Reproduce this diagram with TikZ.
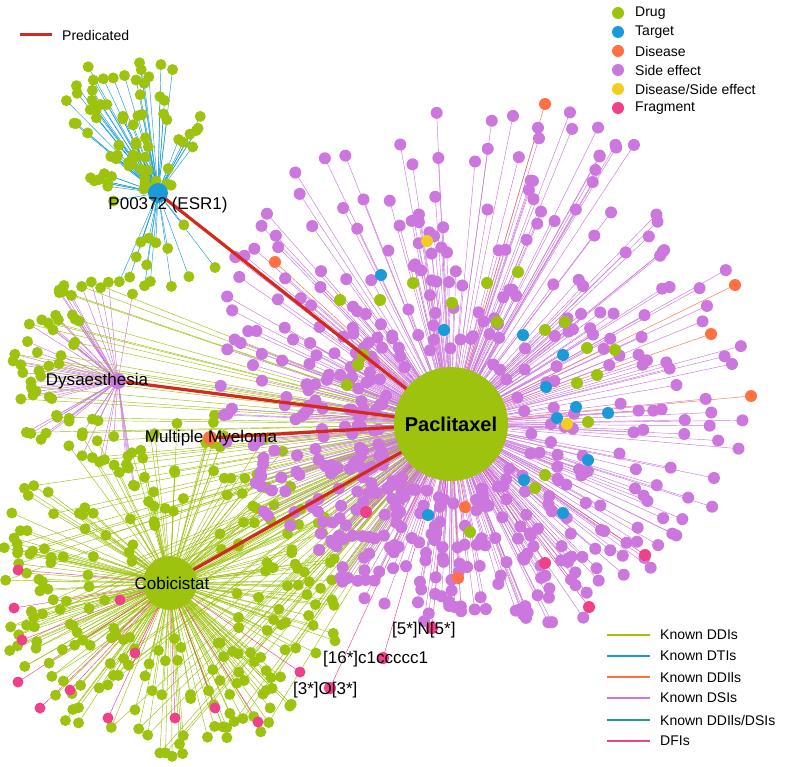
\documentclass[tikz,border=0pt]{standalone}
\usepackage{fontspec}
\setmainfont{Liberation Sans}
\usetikzlibrary{calc}
\definecolor{cdrug}{HTML}{9DC30E}
\definecolor{ctar}{HTML}{1A9BD7}
\definecolor{cdis}{HTML}{FF7043}
\definecolor{cse}{HTML}{CC77DD}
\definecolor{cds}{HTML}{F5CC20}
\definecolor{cfr}{HTML}{F0408A}
\definecolor{cteal}{HTML}{1E9E8A}
\definecolor{cred}{HTML}{D42A1E}
\tikzset{
  thin edge/.style={line width=0.45pt},
  pred/.style={cred,line width=3.2pt},
  lab/.style={font=\fontsize{17}{17}\selectfont,inner sep=0pt},
  leg/.style={font=\fontsize{14}{14}\selectfont,anchor=west,inner sep=0pt},
  legline/.style={line width=1.2pt},
}
\begin{document}
\begin{tikzpicture}[x=1pt,y=-1pt]
\useasboundingbox (0,0) rectangle (797,767);
\coordinate (P) at (451,424);
\coordinate (E) at (158,193);
\coordinate (EC) at (128,128);
\coordinate (D) at (118,381);
\coordinate (M) at (210,438);
\coordinate (C) at (170,583);
% ---- ESR1 cluster
\pgfmathsetseed{11}
\foreach \i in {1,...,75}{
  \pgfmathsetmacro\t{rnd*360}\pgfmathsetmacro\r{75*sqrt(rnd)}
  \draw[ctar,thin edge] (E) -- ($(EC)+(\t:\r)$);
}
\foreach \i in {1,...,14}{
  \pgfmathsetmacro\t{50+rnd*80}\pgfmathsetmacro\r{40+rnd*70}
  \draw[ctar,thin edge] (E) -- ($(E)+(\t:\r)$);
}
% ---- Dysaesthesia cluster
\pgfmathsetseed{21}
\foreach \i in {1,...,60}{
  \pgfmathsetmacro\t{80+rnd*200}\pgfmathsetmacro\r{30+80*sqrt(rnd)}
  \draw[cse,thin edge] (D) -- ($(D)+(\t:\r)$);
}
% ---- Cobicistat cluster lines
\pgfmathsetseed{31}
\foreach \i in {1,...,240}{
  \pgfmathsetmacro\t{rnd*360}\pgfmathsetmacro\r{35+140*sqrt(rnd)}
  \draw[cdrug,thin edge] (C) -- ($(C)+(\t:\r)$);
}
\pgfmathsetseed{31}
\foreach \i in {1,...,80}{
  \pgfmathsetmacro\t{rnd*360}\pgfmathsetmacro\r{35+140*sqrt(rnd)}
  \draw[cdrug,thin edge] (P) -- ($(C)+(\t:\r)$);
}
\pgfmathsetseed{21}
\foreach \i in {1,...,25}{
  \pgfmathsetmacro\t{80+rnd*200}\pgfmathsetmacro\r{30+80*sqrt(rnd)}
  \draw[cdrug,thin edge] (P) -- ($(D)+(\t:\r)$);
}
\foreach \p in {(18,570),(14,608),(22,640),(18,682),(40,708),(70,690),(108,718),(135,653),(175,718),(215,708),(258,722),(300,672),(120,600)}{
  \draw[cfr,thin edge] (C) -- \p;
}
% cluster nodes
\pgfmathsetseed{11}
\foreach \i in {1,...,75}{
  \pgfmathsetmacro\t{rnd*360}\pgfmathsetmacro\r{75*sqrt(rnd)}
  \fill[cdrug] ($(EC)+(\t:\r)$) circle (5.5);
}
\foreach \i in {1,...,14}{
  \pgfmathsetmacro\t{50+rnd*80}\pgfmathsetmacro\r{40+rnd*70}
  \fill[cdrug] ($(E)+(\t:\r)$) circle (5.5);
}
\pgfmathsetseed{21}
\foreach \i in {1,...,60}{
  \pgfmathsetmacro\t{80+rnd*200}\pgfmathsetmacro\r{30+80*sqrt(rnd)}
  \fill[cdrug] ($(D)+(\t:\r)$) circle (5.5);
}
\pgfmathsetseed{31}
\foreach \i in {1,...,240}{
  \pgfmathsetmacro\t{rnd*360}\pgfmathsetmacro\r{35+140*sqrt(rnd)}
  \fill[cdrug] ($(C)+(\t:\r)$) circle (5.5);
}
\foreach \p in {(18,570),(14,608),(22,640),(18,682),(40,708),(70,690),(108,718),(135,653),(175,718),(215,708),(258,722),(300,672),(120,600)}{
  \fill[cfr] \p circle (5.5);
}
% ---- Paclitaxel side-effect cloud
\pgfmathsetseed{7}
\foreach \i in {1,...,520}{
  \pgfmathsetmacro\t{rnd*360}
  \pgfmathsetmacro\R{265+70*cos(\t-300)}
  \pgfmathsetmacro\r{70+(\R-70)*rnd}
  \draw[cse,thin edge] (P) -- ($(P)+(\t:\r)$);
}
\foreach \p in {(545,104),(275,262),(735,285),(711,334),(751,396),(465,507),(458,578)}{\draw[cdis,thin edge] (P) -- \p;}
\foreach \p in {(645,555),(589,607),(545,563),(366,512),(432,628),(383,658),(330,688)}{\draw[cfr,thin edge] (P) -- \p;}
\pgfmathsetseed{7}
\foreach \i in {1,...,520}{
  \pgfmathsetmacro\t{rnd*360}
  \pgfmathsetmacro\R{265+70*cos(\t-300)}
  \pgfmathsetmacro\r{70+(\R-70)*rnd}
  \fill[cse] ($(P)+(\t:\r)$) circle (6);
}
\foreach \p in {(347,385),(358,365),(340,300),(380,300),(413,283),(452,303),(487,283),(518,272),(497,322),(545,330),(565,322),(587,348),(597,375),(615,350),(577,383),(588,422),(545,475),(535,488),(470,532),(363,355)}{\fill[cdrug] \p circle (6);}
\foreach \p in {(381,275),(444,330),(523,335),(563,355),(546,387),(576,407),(557,418),(608,413),(588,460),(524,480),(428,515),(563,513)}{\fill[ctar] \p circle (6);}
\foreach \p in {(545,104),(275,262),(735,285),(711,334),(751,396),(465,507),(458,578)}{\fill[cdis] \p circle (6);}
\foreach \p in {(427,241),(567,424)}{\fill[cds] \p circle (6);}
\foreach \p in {(645,555),(589,607),(545,563),(366,512),(432,628),(383,658),(330,688)}{\fill[cfr] \p circle (6);}
% ---- predicted links
\draw[pred] (P) -- (E);
\draw[pred] (P) -- (D);
\draw[pred] (P) -- (M);
\draw[pred] (P) -- (C);
% ---- hubs
\node[circle,fill=cdrug,minimum size=114pt,inner sep=0pt] (pac) at (P) {};
\node[font=\bfseries\fontsize{20}{20}\selectfont] at (P) {Paclitaxel};
\node[circle,fill=cdrug,minimum size=54pt,inner sep=0pt] (cob) at (C) {};
\node[lab] at (172,583) {Cobicistat};
\node[circle,fill=ctar,minimum size=20pt,inner sep=0pt] (esr) at (E) {};
\node[lab] at (168,205) {P00372 (ESR1)};
\node[circle,fill=cse,minimum size=16pt,inner sep=0pt] (dys) at (D) {};
\node[lab] at (97,381) {Dysaesthesia};
\node[circle,fill=cdis,minimum size=14pt,inner sep=0pt] (mm) at (M) {};
\node[lab] at (211,438) {Multiple Myeloma};
\node[lab,anchor=west] at (392,630) {[5*]N[5*]};
\node[lab,anchor=west] at (323,659) {[16*]c1ccccc1};
\node[lab,anchor=west] at (293,690) {[3*]O[3*]};
% ---- legends
\draw[pred,line width=3pt] (20,35) -- (52,35);
\node[leg] at (62,35) {Predicated};
\fill[cdrug] (618,13) circle (6); \node[leg] at (635,13) {Drug};
\fill[ctar] (618,32) circle (6); \node[leg] at (635,32) {Target};
\fill[cdis] (618,51) circle (6); \node[leg] at (635,51) {Disease};
\fill[cse] (618,70) circle (6); \node[leg] at (635,70) {Side effect};
\fill[cds] (618,89) circle (6); \node[leg] at (635,89) {Disease/Side effect};
\fill[cfr] (618,108) circle (6); \node[leg] at (635,108) {Fragment};
\draw[legline,draw=cdrug] (607,635) -- (650,635); \node[leg] at (660,635) {Known DDIs};
\draw[legline,draw=ctar] (607,656) -- (650,656); \node[leg] at (660,656) {Known DTIs};
\draw[legline,draw=cdis] (607,677) -- (650,677); \node[leg] at (660,677) {Known DDIls};
\draw[legline,draw=cse] (607,698) -- (650,698); \node[leg] at (660,698) {Known DSIs};
\draw[legline,draw=cteal] (607,720) -- (650,720); \node[leg] at (660,720) {Known DDIls/DSIs};
\draw[legline,draw=cfr] (607,741) -- (650,741); \node[leg] at (660,741) {DFIs};
\end{tikzpicture}
\end{document}
